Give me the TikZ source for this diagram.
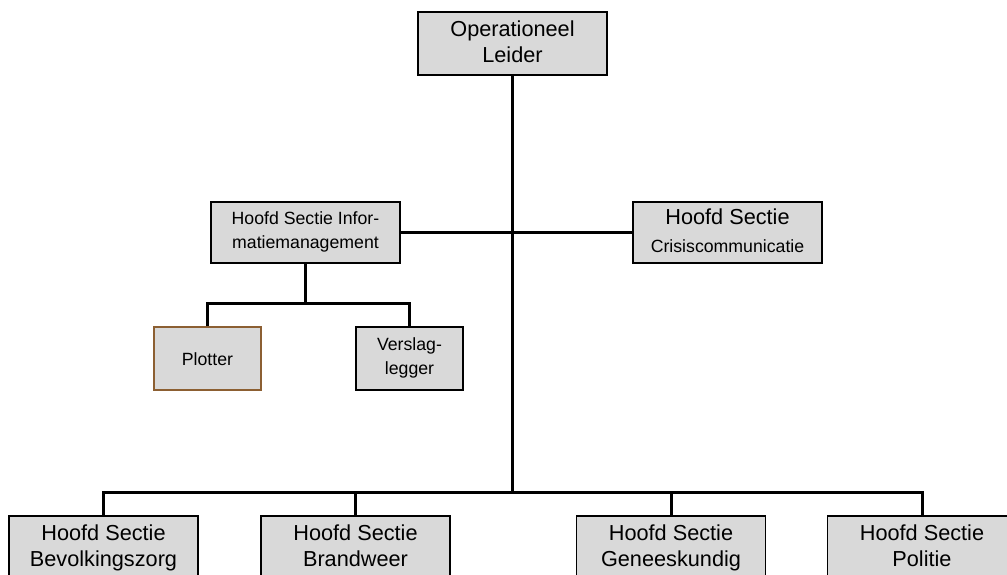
\documentclass[tikz,border=0pt]{standalone}
\usepackage{fontspec}
\setmainfont{Liberation Sans}
\usepackage{tikz}
\usetikzlibrary{calc}
\definecolor{Boxgray}{RGB}{217,217,217}
\definecolor{Brownline}{RGB}{140,95,50}
\newcommand{\grote}{\fontsize{10.85}{13}\selectfont}
\newcommand{\kleine}{\fontsize{8.85}{12}\selectfont}
\newcommand{\hoogstrut}{\rule{0pt}{8.8pt}}
\newcommand{\diepstrut}{\rule[-2.3pt]{0pt}{2.3pt}}
\tikzset{
  box/.style={draw=black,line width=0.6pt,fill=Boxgray,align=center,inner sep=0pt,minimum height=31.5pt,
    execute at begin node=\hoogstrut,execute at end node=\diepstrut},
  widebox/.style={box,minimum width=94.5pt},
  smallbox/.style={box,minimum width=53.5pt},
  link/.style={line width=1.5pt}
}
\begin{document}
\begin{tikzpicture}[x=0.5pt,y=-0.5pt]
          \useasboundingbox (0,0) rectangle (1007,574);
          % boxes
          \node[widebox,font=\grote] (leider) at (512.5,43.5) {Operationeel\\Leider};
          \node[widebox,font=\kleine,minimum height=30.5pt] (info) at (305.5,232.5) {Hoofd Sectie Infor-\\matiemanagement};
          \node[widebox,font=\grote,minimum height=30.5pt] (crisis) at (727.5,232.5) {Hoofd Sectie\\[1pt]{\kleine Crisiscommunicatie}};
          \node[smallbox,draw=Brownline,font=\kleine] (plotter) at (207.5,358.5) {Plotter};
          \node[smallbox,font=\kleine] (verslag) at (409.5,358.5) {Verslag-\\legger};
          \node[widebox,font=\grote] (bevolking) at (103.5,547.5) {Hoofd Sectie\\Bevolkingszorg};
          \node[widebox,font=\grote] (brandweer) at (355.5,547.5) {Hoofd Sectie\\Brandweer};
          \node[widebox,font=\grote] (geneeskundig) at (671,547.5) {Hoofd Sectie\\Geneeskundig};
          \node[widebox,font=\grote] (politie) at (922,547.5) {Hoofd Sectie\\Politie};
          % lines
          \coordinate (hoofdbus) at ($(leider.south)+(0,417)$);
          \coordinate (infobus) at ($(info.south)+(0,40)$);
          \draw[link] (leider.south) -- (hoofdbus);
          \draw[link] (info) -- (crisis);
          \draw[link] (info.south) -- (infobus);
          \draw[link] (plotter.north) |- (infobus) -| (verslag.north);
          \draw[link] (bevolking.north) |- (hoofdbus) -| (politie.north);
          \draw[link] (brandweer.north) -- (brandweer.north |- hoofdbus);
          \draw[link] (geneeskundig.north) -- (geneeskundig.north |- hoofdbus);
    \end{tikzpicture}
\end{document}
